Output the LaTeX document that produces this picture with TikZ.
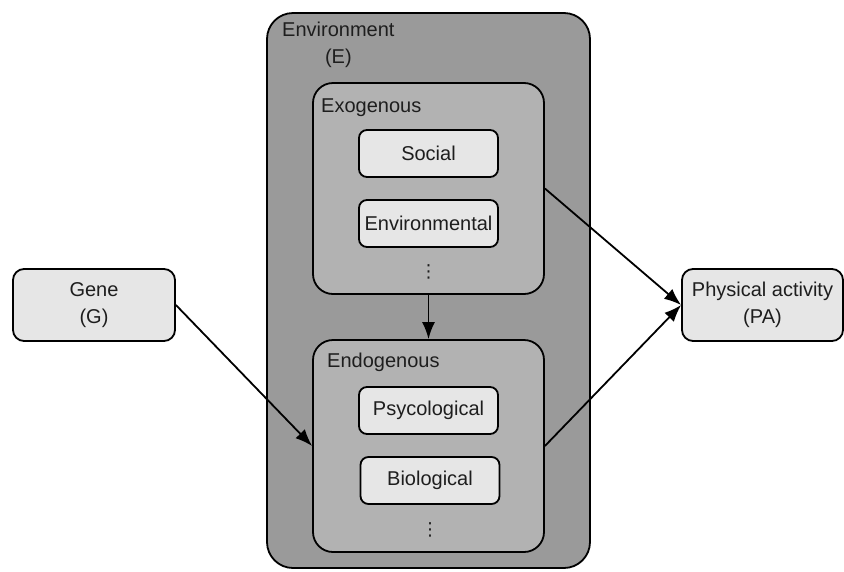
\documentclass[tikz,border=0pt]{standalone}
\usepackage{fontspec}
\setmainfont{Liberation Sans}
\newfontfamily\symfont{DejaVu Sans}
\usetikzlibrary{arrows.meta}
\definecolor{envgray}{HTML}{9A9A9A}
\definecolor{midgray}{HTML}{B2B2B2}
\definecolor{boxgray}{HTML}{E6E6E6}
\definecolor{inkgray}{HTML}{1E1E1E}
\tikzset{
  group/.style={draw, line width=1.8pt, rounded corners=20pt, inner sep=0pt},
  leaf/.style={draw, line width=1.8pt, rounded corners=8pt, fill=boxgray,
    minimum width=139pt, minimum height=47pt, inner sep=0pt},
  tag/.style={inner sep=0pt},
  more/.style={inner sep=0pt, font=\symfont\fontsize{18}{18}\selectfont},
  link/.style={line width=1.8pt, -{Latex[length=17pt,width=13pt]}}
}
\begin{document}
\begin{tikzpicture}[x=1pt, y=-1pt, font=\fontsize{20}{27}\selectfont, text=inkgray]
    \useasboundingbox (0,0) rectangle (844,571);
    \node[group, fill=envgray, rounded corners=26pt, minimum width=323pt, minimum height=555pt] (env) at (428.5,290.5) {};
      \node[tag, anchor=north west, align=center] (envtag) at (282,22) {Environment\\(E)};
      \node[group, fill=midgray, minimum width=231pt, minimum height=211pt] (exo) at (428.5,188.5) {};
      \node[tag, anchor=base west] (exotag) at (321,112) {Exogenous};
      \node[leaf] (social) at (428.5,153.5) {Social};
      \node[leaf] (envtl) at (428.5,223.5) {Environmental};
      \node[more] (exodots) at (428.5,272) {⋮};
      \node[group, fill=midgray, minimum width=231pt, minimum height=212pt] (endo) at (428.5,446) {};
      \node[tag, anchor=base west] (endotag) at (327,367) {Endogenous};
      \node[leaf] (psy) at (428.5,410.5) {Psycological};
      \node[leaf] (bio) at (430,480.5) {Biological};
      \node[more] (endodots) at (430,530) {⋮};
      \node[leaf, rounded corners=11pt, minimum width=162pt, minimum height=72pt, align=center] (gene) at (94,305) {Gene\\(G)};
      \node[leaf, rounded corners=11pt, minimum width=161pt, minimum height=72pt, align=center] (pa) at (762.5,305) {Physical activity\\(PA)};
      \path[link] (gene.east) edge (endo.west);
      \path[link] (exo) edge (endo);
      \path[link] (exo.east) edge (pa.west);
      \path[link] (endo.east) edge (pa.west);
    \end{tikzpicture}
\end{document}
